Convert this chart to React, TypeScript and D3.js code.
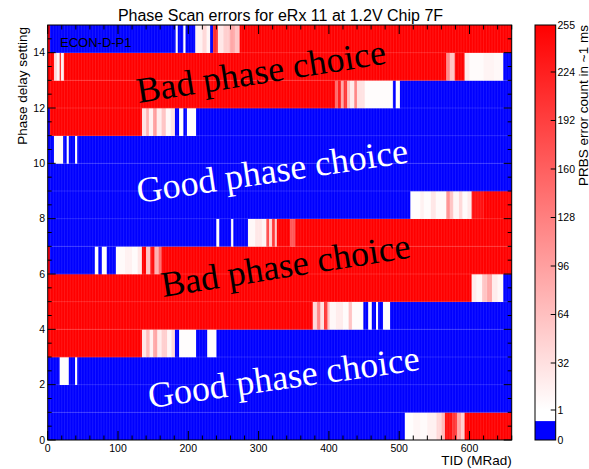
import React from 'react';
import * as d3 from 'd3';

// each row is a list of [tidStart, tidEnd, errorCount] runs (TID in MRad)
const row0 = [[0, 508, 0], [508, 520, 3], [520, 530, 10], [530, 540, 5], [540, 553, 15], [553, 560, 40], [560, 565, 70], [565, 575, 240], [575, 582, 200], [582, 588, 90], [588, 593, 50], [593, 660, 255]];
const row1 = [[0, 660, 0]];
const row2 = [[0, 17, 0], [17, 30, 3], [30, 39, 0], [39, 42, 3], [42, 660, 0]];
const row3 = [[0, 134, 255], [134, 140, 25], [140, 145, 70], [145, 150, 15], [150, 156, 90], [156, 162, 20], [162, 170, 50], [170, 176, 10], [176, 181, 40], [181, 187, 0], [187, 211, 3], [211, 227, 0], [227, 240, 3], [240, 660, 0]];
const row4 = [[0, 377, 255], [377, 383, 40], [383, 388, 120], [388, 393, 30], [393, 398, 200], [398, 401, 60], [401, 410, 8], [410, 420, 20], [420, 428, 5], [428, 433, 60], [433, 449, 4], [449, 456, 0], [456, 461, 3], [461, 467, 0], [467, 470, 3], [470, 477, 0], [477, 487, 3], [487, 660, 0]];
const row5 = [[0, 603, 255], [603, 610, 20], [610, 618, 8], [618, 625, 60], [625, 632, 90], [632, 640, 20], [640, 648, 8], [648, 660, 0]];
const row6 = [[0, 3, 255], [3, 67, 0], [67, 72, 3], [72, 77, 0], [77, 84, 3], [84, 97, 0], [97, 110, 6], [110, 120, 15], [120, 128, 5], [128, 134, 25], [134, 140, 255], [140, 146, 60], [146, 152, 240], [152, 158, 80], [158, 162, 150], [162, 660, 255]];
const row7 = [[0, 240, 0], [240, 244, 3], [244, 261, 0], [261, 264, 3], [264, 285, 0], [285, 295, 8], [295, 305, 25], [305, 311, 12], [311, 315, 180], [315, 319, 40], [319, 323, 200], [323, 326, 60], [326, 345, 255], [345, 352, 170], [352, 660, 255]];
const row8 = [[0, 516, 0], [516, 530, 3], [530, 535, 15], [535, 545, 4], [545, 552, 25], [552, 567, 6], [567, 572, 110], [572, 577, 60], [577, 585, 10], [585, 590, 40], [590, 597, 5], [597, 603, 20], [603, 620, 240], [620, 660, 255]];
const row9 = [[0, 660, 0]];
const row10 = [[0, 9, 0], [9, 22, 6], [22, 27, 0], [27, 30, 3], [30, 39, 0], [39, 42, 3], [42, 660, 0]];
const row11 = [[0, 3, 0], [3, 134, 255], [134, 140, 30], [140, 144, 80], [144, 150, 15], [150, 155, 100], [155, 162, 20], [162, 168, 60], [168, 175, 8], [175, 181, 30], [181, 187, 0], [187, 193, 3], [193, 198, 0], [198, 211, 3], [211, 660, 0]];
const row12 = [[0, 409, 255], [409, 413, 150], [413, 417, 230], [417, 421, 90], [421, 426, 200], [426, 430, 60], [430, 436, 20], [436, 440, 120], [440, 451, 30], [451, 491, 4], [491, 495, 0], [495, 501, 3], [501, 660, 0]];
const row13 = [[0, 9, 255], [9, 13, 40], [13, 17, 8], [17, 19, 200], [19, 23, 15], [23, 567, 255], [567, 572, 120], [572, 579, 60], [579, 593, 255], [593, 600, 20], [600, 620, 5], [620, 635, 12], [635, 648, 8], [648, 660, 0]];
const row14 = [[0, 3, 255], [3, 182, 0], [182, 185, 5], [185, 193, 0], [193, 196, 3], [196, 210, 0], [210, 220, 15], [220, 226, 40], [226, 231, 10], [231, 235, 0], [235, 242, 210], [242, 250, 25], [250, 259, 50], [259, 266, 90], [266, 273, 60], [273, 660, 255]];
const rows = [row0, row1, row2, row3, row4, row5, row6, row7, row8, row9, row10, row11, row12, row13, row14];

const xTicks = [0, 100, 200, 300, 400, 500, 600];
const yTicks = [0, 2, 4, 6, 8, 10, 12, 14];
const zTicks = [0, 1, 32, 64, 96, 128, 160, 192, 224, 255];

// annotation anchors in data coordinates (TID, phase setting)
const notes = [
  { text: 'Bad phase choice', tid: 129, phase: 12.18, angle: -9, color: '#000' },
  { text: 'Good phase choice', tid: 129, phase: 8.57, angle: -8.5, color: '#fff' },
  { text: 'Bad phase choice', tid: 164, phase: 5.17, angle: -9, color: '#000' },
  { text: 'Good phase choice', tid: 145, phase: 1.16, angle: -8, color: '#fff' },
];

const W = 589, H = 469;
const L = 47.7, R = 511.7, T = 25, B = 440;
const BIN = 4; // MRad per bin, gives the faint cell texture

const x = d3.scaleLinear().domain([0, 660]).range([L, R]);
const y = d3.scaleLinear().domain([0, 15]).range([B, T]);
const z = d3.scaleLinear().domain([0, 1, 255]).range([B, 410, T]);
const ramp = d3.interpolateRgb('#ffffff', '#ff0000');
const fill = (v: number) => (v <= 0 ? '#0000ff' : ramp(Math.min(1, (v - 1) / 254)));

const sans = '"Liberation Sans", Arial, sans-serif';
const serif = '"Liberation Serif", "Times New Roman", serif';

export default function App() {
  const binEdges = d3.range(BIN, 660, BIN);
  const minorX = d3.range(0, 661, 20).filter((d) => d % 100 !== 0);
  const minorY = d3.range(0.5, 15, 0.5).filter((d) => d % 2 !== 0);
  const cbL = 535, cbR = 555.7;

  return (
    <svg width={W} height={H} style={{ position: 'absolute', left: 0, top: 0, background: '#fff' }}>
      <defs>
        <linearGradient id="zgrad" x1="0" y1={z(1)} x2="0" y2={z(255)} gradientUnits="userSpaceOnUse">
          <stop offset="0" stopColor="#ffffff" />
          <stop offset="1" stopColor="#ff0000" />
        </linearGradient>
        <clipPath id="frame">
          <rect x={L} y={T} width={R - L} height={B - T} />
        </clipPath>
      </defs>

      {/* heatmap cells */}
      <g clipPath="url(#frame)">
        {rows.map((row, i) =>
          row.map(([a, b, v], j) => (
            <rect key={`${i}-${j}`} x={x(a)} y={y(i + 1)} width={x(b) - x(a) + 0.3} height={y(i) - y(i + 1) + 0.3} fill={fill(v)} />
          ))
        )}
        {binEdges.map((d) => (
          <line key={`v${d}`} x1={x(d)} x2={x(d)} y1={T} y2={B} stroke="#fff" strokeOpacity={0.16} strokeWidth={0.6} />
        ))}
        {d3.range(1, 15).map((d) => (
          <line key={`h${d}`} x1={L} x2={R} y1={y(d)} y2={y(d)} stroke="#fff" strokeOpacity={0.2} strokeWidth={0.7} />
        ))}
      </g>

      {/* annotations */}
      {notes.map((n, i) => {
        const px = x(n.tid), py = y(n.phase);
        return (
          <text key={i} x={px} y={py} transform={`rotate(${n.angle},${px},${py})`} fontFamily={serif} fontSize={36} fill={n.color}>
            {n.text}
          </text>
        );
      })}
      <text x={60} y={46.5} fontFamily={sans} fontSize={13} fill="#000">ECON-D-P1</text>

      {/* frame and ticks */}
      <rect x={L} y={T} width={R - L} height={B - T} fill="none" stroke="#000" strokeWidth={1} />
      {xTicks.map((d) => (
        <g key={`xt${d}`}>
          <line x1={x(d)} x2={x(d)} y1={B} y2={B - 9} stroke="#000" />
          <line x1={x(d)} x2={x(d)} y1={T} y2={T + 9} stroke="#000" />
          <text x={x(d)} y={452} textAnchor="middle" fontFamily={sans} fontSize={10.5}>{d}</text>
        </g>
      ))}
      {minorX.map((d) => (
        <g key={`xm${d}`}>
          <line x1={x(d)} x2={x(d)} y1={B} y2={B - 4.5} stroke="#000" />
          <line x1={x(d)} x2={x(d)} y1={T} y2={T + 4.5} stroke="#000" />
        </g>
      ))}
      {yTicks.map((d) => (
        <g key={`yt${d}`}>
          <line x1={L} x2={L + 8} y1={y(d)} y2={y(d)} stroke="#000" />
          <line x1={R} x2={R - 8} y1={y(d)} y2={y(d)} stroke="#000" />
          <text x={45} y={y(d)} dy="0.36em" textAnchor="end" fontFamily={sans} fontSize={10.5}>{d}</text>
        </g>
      ))}
      {minorY.map((d) => (
        <g key={`ym${d}`}>
          <line x1={L} x2={L + 4} y1={y(d)} y2={y(d)} stroke="#000" />
          <line x1={R} x2={R - 4} y1={y(d)} y2={y(d)} stroke="#000" />
        </g>
      ))}

      {/* titles */}
      <text x={280.5} y={20.5} textAnchor="middle" fontFamily={sans} fontSize={16}>Phase Scan errors for eRx 11 at 1.2V Chip 7F</text>
      <text x={R} y={465} textAnchor="end" fontFamily={sans} fontSize={13.5}>TID (MRad)</text>
      <text transform={`translate(27.3,${T + 2}) rotate(-90)`} textAnchor="end" fontFamily={sans} fontSize={13.5}>Phase delay setting</text>

      {/* colour bar */}
      <rect x={cbL} y={z(255)} width={cbR - cbL} height={z(0.63) - z(255)} fill="url(#zgrad)" />
      <rect x={cbL} y={z(0.63)} width={cbR - cbL} height={z(0) - z(0.63)} fill="#0000ff" />
      <rect x={cbL} y={T} width={cbR - cbL} height={B - T} fill="none" stroke="#000" />
      {zTicks.map((d) => (
        <g key={`zt${d}`}>
          {d > 0 && d < 255 && <line x1={cbR} x2={cbR - 5} y1={z(d)} y2={z(d)} stroke="#000" />}
          <text x={557.5} y={z(d)} dy="0.36em" fontFamily={sans} fontSize={10.5}>{d}</text>
        </g>
      ))}
      <text transform={`translate(587.5,${T}) rotate(-90)`} textAnchor="end" fontFamily={sans} fontSize={13.5}>PRBS error count in ~1 ms</text>
    </svg>
  );
}
